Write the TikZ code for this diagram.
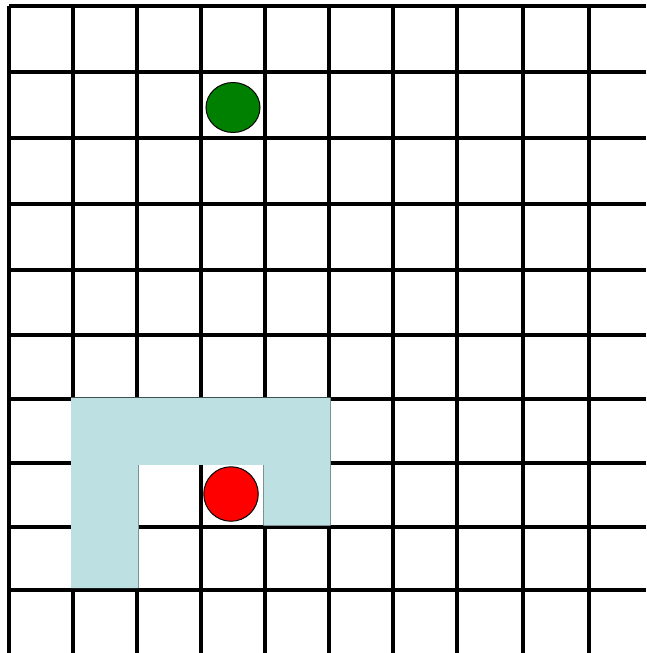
\documentclass[tikz,border=0pt]{standalone}
\usetikzlibrary{shapes.geometric}

\definecolor{wallblue}{RGB}{189,224,227}
\definecolor{goalgreen}{RGB}{0,128,0}

\tikzset{
  gridline/.style={line width=3.2pt, black},
  token/.style={draw=black, line width=1pt, inner sep=0pt}
}

\begin{document}
\begin{tikzpicture}[x=1pt, y=-1pt]

  \useasboundingbox (0,0) rectangle (646,653);

  % Grid lines, running off the right and bottom edges
  \foreach \x in {9,73,137,201,265,329,393,457,523,589}{
    \draw[gridline] (\x,6) -- (\x,653);
  }
  \foreach \y in {6,72,138,204,270,335,399,463,527,590}{
    \draw[gridline] (9,\y) -- (646,\y);
  }

  % Obstacle — light blue, covering the grid lines
  \fill[wallblue] (71,397.5) -- (330.6,397.5) -- (330.6,525.5) -- (263.4,525.5)
    -- (263.4,464.8) -- (138.6,464.8) -- (138.6,588.2) -- (71,588.2) -- cycle;

  % Goal and start tokens
  \node[token, ellipse, fill=goalgreen, minimum width=54pt, minimum height=50pt]
    (goal) at (233,107.5) {};
  \node[token, circle, fill=red, minimum size=54.5pt]
    (start) at (231,494) {};

\end{tikzpicture}
\end{document}
